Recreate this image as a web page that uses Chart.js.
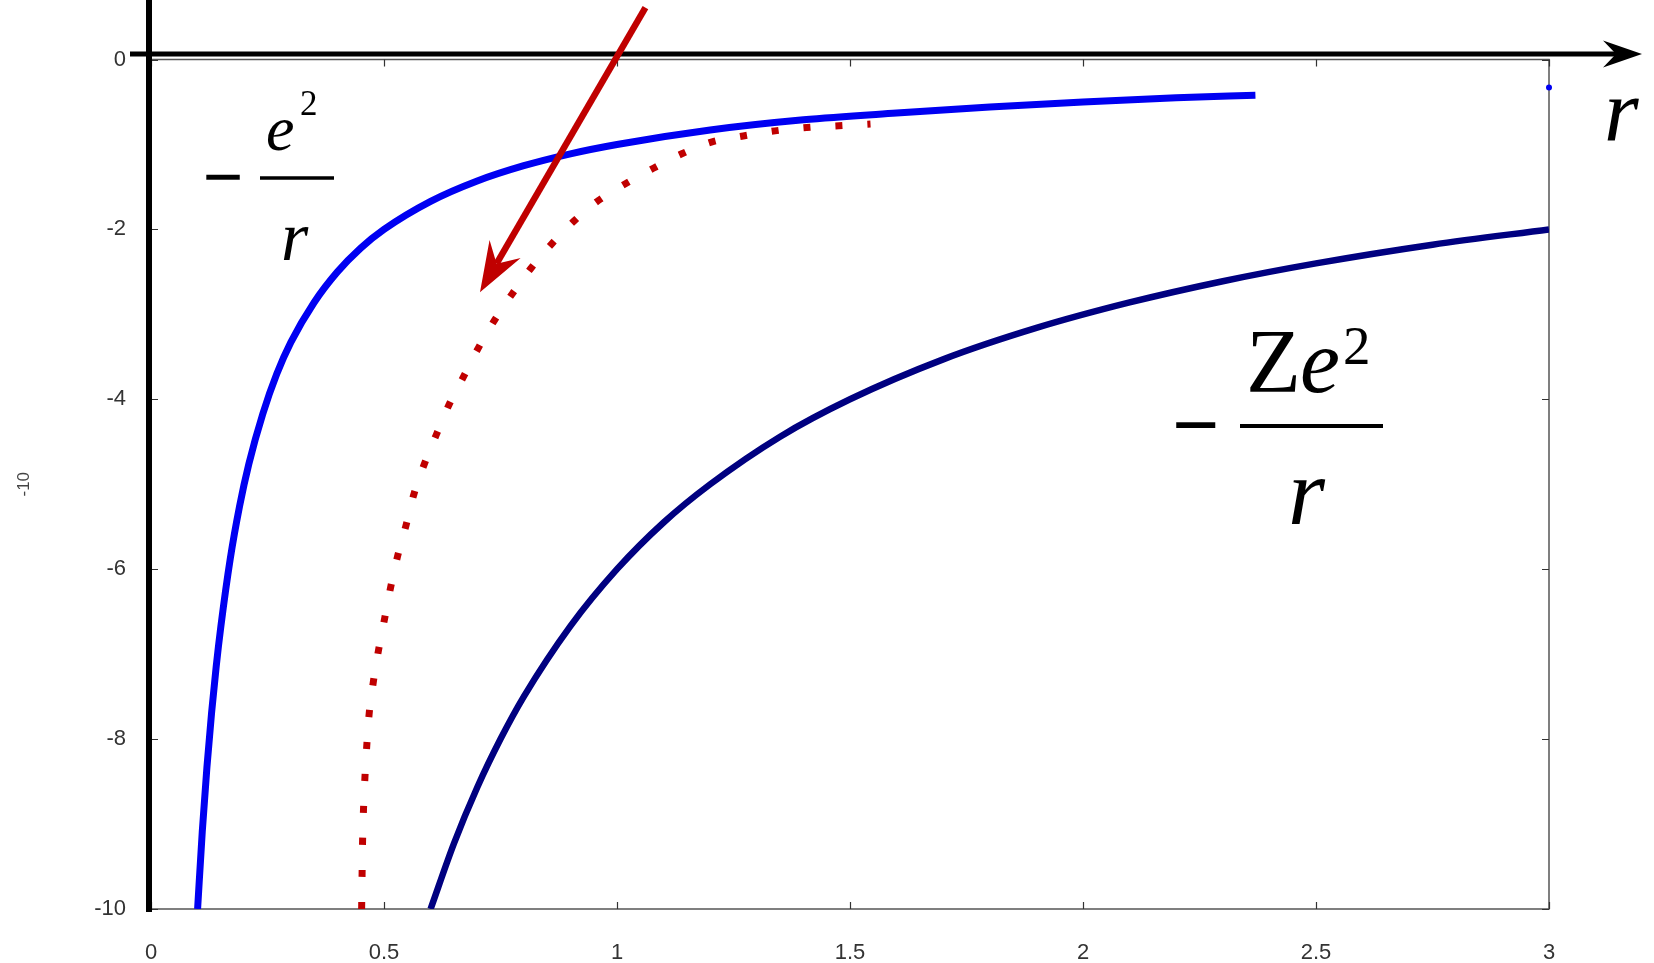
<!DOCTYPE html>
<html>
<head>
<meta charset="utf-8">
<script src="https://cdn.jsdelivr.net/npm/chart.js@4.4.1/dist/chart.umd.min.js"></script>
<style>
  html, body { margin: 0; padding: 0; background: #fff; }
  canvas { display: block; }
</style>
</head>
<body>
<canvas id="potential" width="1654" height="963"></canvas>
<script>
// bare coulomb, -e^2/r
const bareR = [0.1, 0.11, 0.12, 0.13, 0.14, 0.15, 0.17, 0.19, 0.21, 0.24, 0.27, 0.3, 0.35, 0.4, 0.45, 0.5,
               0.6, 0.7, 0.8, 0.9, 1.0, 1.2, 1.4, 1.6, 1.8, 2.0, 2.2, 2.37];
const bareV = [-10, -9.09, -8.33, -7.69, -7.14, -6.67, -5.88, -5.26, -4.76, -4.17, -3.70, -3.33, -2.86, -2.5, -2.22, -2.0,
               -1.67, -1.43, -1.25, -1.11, -1.0, -0.83, -0.71, -0.63, -0.56, -0.5, -0.45, -0.42];

// nucleus, -Ze^2/r
const nucR = [0.6, 0.65, 0.7, 0.75, 0.8, 0.9, 1.0, 1.1, 1.2, 1.35, 1.5, 1.7, 1.9, 2.1, 2.3, 2.5, 2.75, 3.0];
const nucV = [-10, -9.23, -8.57, -8.0, -7.5, -6.67, -6.0, -5.45, -5.0, -4.44, -4.0, -3.53, -3.16, -2.86, -2.61, -2.4, -2.18, -2.0];

// screened potential (red dotted)
const screenR = [0.452, 0.453, 0.454, 0.456, 0.459, 0.463, 0.468, 0.477, 0.488, 0.501, 0.514, 0.529, 0.547, 0.564,
                 0.586, 0.612, 0.639, 0.671, 0.702, 0.737, 0.775, 0.815, 0.860, 0.908, 0.960, 1.019, 1.078, 1.139,
                 1.204, 1.271, 1.339, 1.407, 1.476, 1.544];
const screenV = [-10, -9.58, -9.21, -8.83, -8.46, -8.08, -7.71, -7.33, -6.96, -6.59, -6.22, -5.85, -5.49, -5.12,
                 -4.77, -4.42, -4.07, -3.73, -3.40, -3.07, -2.76, -2.46, -2.17, -1.90, -1.66, -1.46, -1.28, -1.11,
                 -0.97, -0.90, -0.84, -0.80, -0.78, -0.76];

// lone dot on the right edge
const strayR = [3.0];
const strayV = [-0.33];

const xTicks = [0, 0.5, 1, 1.5, 2, 2.5, 3];
const xLabels = ['0', '0.5', '1', '1.5', '2', '2.5', '3'];
const yTicks = [0, -2, -4, -6, -8, -10];
const yLabels = ['0', '-2', '-4', '-6', '-8', '-10'];
const yTitle = '-10';

// red arrow, tail -> tip (data units)
const arrowR = [1.061, 0.706];
const arrowV = [0.61, -2.74];

function pts(xs, ys) {
    return xs.map((x, i) => ({ x: x, y: ys[i] }));
}

const tickFont = { family: "'Liberation Sans', Arial, sans-serif", size: 22 };
const serif = "'Liberation Serif', 'Times New Roman', serif";

function stealth(ctx, tx, ty, ang, len, half, notch) {
    const c = Math.cos(ang), s = Math.sin(ang);
    const p = (a, b) => [tx - a * c + b * s, ty - a * s - b * c];
    const b1 = p(len, half), b2 = p(len, -half), n = p(notch, 0);
    ctx.beginPath();
    ctx.moveTo(tx, ty);
    ctx.lineTo(b1[0], b1[1]);
    ctx.lineTo(n[0], n[1]);
    ctx.lineTo(b2[0], b2[1]);
    ctx.closePath();
    ctx.fill();
    return n;
}

function txt(ctx, str, x, y, font, align) {
    ctx.font = font;
    ctx.textAlign = align || 'left';
    ctx.textBaseline = 'alphabetic';
    ctx.fillText(str, x, y);
}

const annotate = {
    id: 'annotate',
    beforeDatasetsDraw(chart) {
        const ctx = chart.ctx, a = chart.chartArea;
        const xs = chart.scales.x, ys = chart.scales.y;
        ctx.save();
        ctx.strokeStyle = '#555';
        ctx.lineWidth = 1.5;
        ctx.strokeRect(a.left, a.top, a.right - a.left, a.bottom - a.top);
        ctx.lineWidth = 1.2;
        ctx.strokeStyle = '#333';
        ctx.beginPath();
        xTicks.forEach(v => {
            const px = Math.round(xs.getPixelForValue(v)) + 0.5;
            ctx.moveTo(px, a.bottom); ctx.lineTo(px, a.bottom - 7);
            ctx.moveTo(px, a.top); ctx.lineTo(px, a.top + 7);
        });
        yTicks.forEach(v => {
            const py = Math.round(ys.getPixelForValue(v)) + 0.5;
            ctx.moveTo(a.left, py); ctx.lineTo(a.left + 7, py);
            ctx.moveTo(a.right, py); ctx.lineTo(a.right - 7, py);
        });
        ctx.stroke();
        ctx.restore();
    },
    afterDatasetsDraw(chart) {
        const ctx = chart.ctx, a = chart.chartArea;
        const xs = chart.scales.x, ys = chart.scales.y;
        ctx.save();

        // thick black r axis with arrow
        ctx.fillStyle = '#000';
        ctx.strokeStyle = '#000';
        const hy = a.top - 5.5;
        const tip = a.right + 93;
        ctx.lineWidth = 5;
        ctx.beginPath();
        ctx.moveTo(a.left - 21, hy);
        ctx.lineTo(tip - 26, hy);
        ctx.stroke();
        stealth(ctx, tip, hy, 0, 39, 13.5, 26);

        // thick black vertical axis
        ctx.lineWidth = 6;
        ctx.beginPath();
        ctx.moveTo(a.left - 2, 0);
        ctx.lineTo(a.left - 2, a.bottom + 3);
        ctx.stroke();

        // red arrow
        const x0 = xs.getPixelForValue(arrowR[0]), y0 = ys.getPixelForValue(arrowV[0]);
        const x1 = xs.getPixelForValue(arrowR[1]), y1 = ys.getPixelForValue(arrowV[1]);
        const ang = Math.atan2(y1 - y0, x1 - x0);
        ctx.fillStyle = '#c00000';
        ctx.strokeStyle = '#c00000';
        ctx.lineWidth = 6.5;
        const n = stealth(ctx, x1, y1, ang, 50, 18, 33);
        ctx.beginPath();
        ctx.moveTo(x0, y0);
        ctx.lineTo(n[0], n[1]);
        ctx.stroke();

        // formula labels
        ctx.fillStyle = '#000';
        ctx.strokeStyle = '#000';
        txt(ctx, '\u2212', 223, 201, 'bold 72px ' + serif, 'center');
        ctx.lineWidth = 3.5;
        ctx.beginPath(); ctx.moveTo(260, 178); ctx.lineTo(334, 178); ctx.stroke();
        txt(ctx, 'e', 266, 150, 'italic 64px ' + serif);
        txt(ctx, '2', 300, 115, '35px ' + serif);
        txt(ctx, 'r', 281, 260, 'italic 70px ' + serif);

        txt(ctx, '\u2212', 1196, 453, 'bold 84px ' + serif, 'center');
        ctx.lineWidth = 4;
        ctx.beginPath(); ctx.moveTo(1240, 426); ctx.lineTo(1383, 426); ctx.stroke();
        txt(ctx, 'Z', 1246, 392, '90px ' + serif);
        txt(ctx, 'e', 1300, 392, 'italic 90px ' + serif);
        txt(ctx, '2', 1343, 364, '55px ' + serif);
        txt(ctx, 'r', 1288, 524, 'italic 95px ' + serif);

        txt(ctx, 'r', 1604, 140, 'italic 89px ' + serif);
        ctx.restore();
    }
};

new Chart(document.getElementById('potential'), {
    type: 'line',
    data: {
        datasets: [
            {
                label: 'bare',
                data: pts(bareR, bareV),
                borderColor: '#0000f2',
                borderWidth: 7,
                pointRadius: 0,
                cubicInterpolationMode: 'monotone'
            },
            {
                label: 'nucleus',
                data: pts(nucR, nucV),
                borderColor: '#000080',
                borderWidth: 6.5,
                pointRadius: 0,
                cubicInterpolationMode: 'monotone'
            },
            {
                label: 'screened',
                data: pts(screenR, screenV),
                borderColor: '#c00000',
                borderWidth: 7,
                borderDash: [7, 25],
                borderCapStyle: 'butt',
                pointRadius: 0,
                cubicInterpolationMode: 'monotone'
            },
            {
                label: 'stray',
                data: pts(strayR, strayV),
                showLine: false,
                pointRadius: 3,
                pointBorderWidth: 0,
                pointBackgroundColor: '#0000f2',
                clip: false
            }
        ]
    },
    options: {
        responsive: false,
        animation: false,
        devicePixelRatio: 1,
        layout: { padding: { left: 0, top: 59.5, right: 105, bottom: 0 } },
        plugins: {
            legend: { display: false },
            tooltip: { enabled: false }
        },
        scales: {
            x: {
                type: 'linear',
                min: 0,
                max: 3,
                afterFit: s => { s.height = 54; },
                afterBuildTicks: s => { s.ticks = xTicks.map(v => ({ value: v })); },
                grid: { drawOnChartArea: false, drawTicks: false },
                border: { display: false },
                ticks: {
                    padding: 31,
                    font: tickFont,
                    color: '#333',
                    maxRotation: 0,
                    autoSkip: false,
                    callback: v => xLabels[xTicks.indexOf(v)]
                }
            },
            y: {
                type: 'linear',
                min: -10,
                max: 0,
                afterFit: s => { s.width = 151; },
                afterBuildTicks: s => { s.ticks = yTicks.map(v => ({ value: v })); },
                grid: { drawOnChartArea: false, drawTicks: false },
                border: { display: false },
                ticks: {
                    padding: 25,
                    font: tickFont,
                    color: '#333',
                    autoSkip: false,
                    callback: v => yLabels[yTicks.indexOf(v)]
                },
                title: {
                    display: true,
                    text: yTitle,
                    color: '#444',
                    font: { family: "'Liberation Sans', Arial, sans-serif", size: 17 },
                    padding: { top: 14, bottom: 0 }
                }
            }
        }
    },
    plugins: [annotate]
});
</script>
</body>
</html>
